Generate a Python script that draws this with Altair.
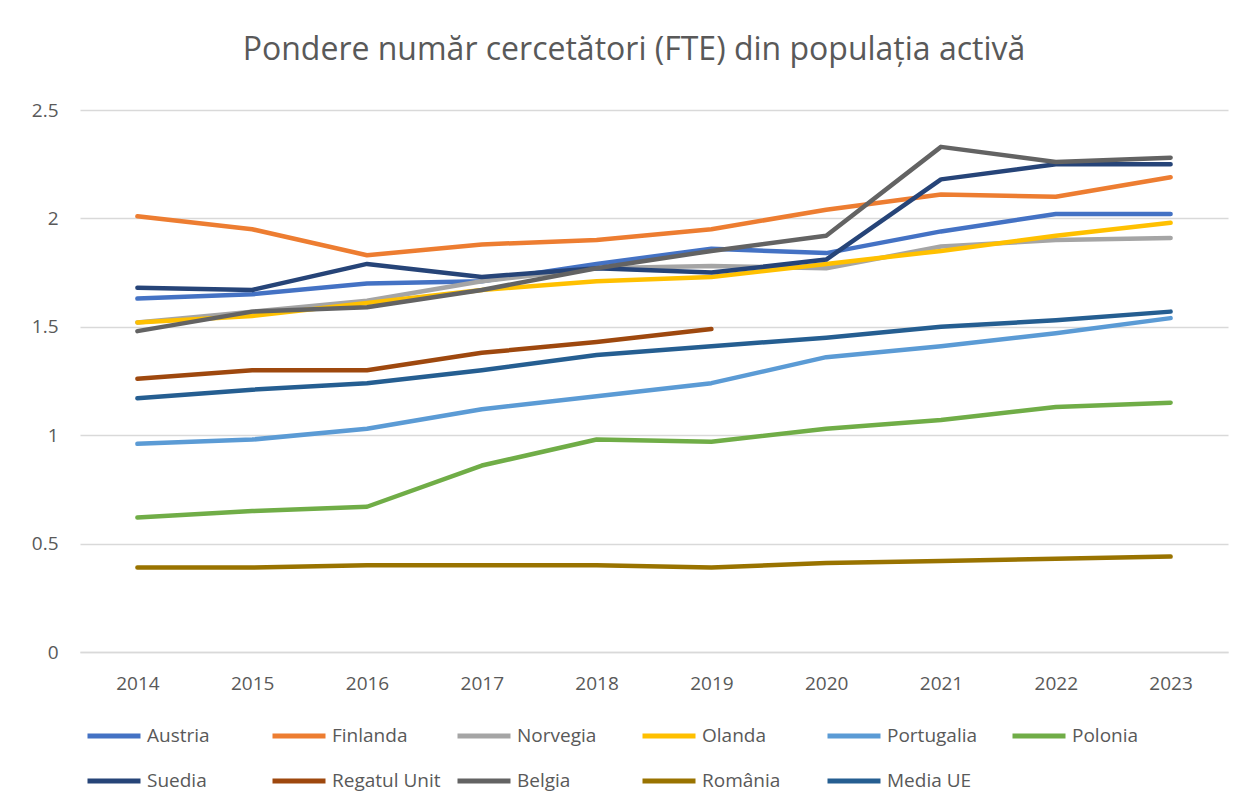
import altair as alt
import pandas as pd

years = ["2014", "2015", "2016", "2017", "2018", "2019", "2020", "2021", "2022", "2023"]

series_names = ["Austria", "Finlanda", "Norvegia", "Olanda", "Portugalia", "Polonia",
                "Suedia", "Regatul Unit", "Belgia", "România", "Media UE"]

austria = [1.63, 1.65, 1.70, 1.71, 1.79, 1.86, 1.84, 1.94, 2.02, 2.02]
finlanda = [2.01, 1.95, 1.83, 1.88, 1.90, 1.95, 2.04, 2.11, 2.10, 2.19]
norvegia = [1.52, 1.57, 1.62, 1.71, 1.77, 1.78, 1.77, 1.87, 1.90, 1.91]
olanda = [1.52, 1.55, 1.61, 1.67, 1.71, 1.73, 1.79, 1.85, 1.92, 1.98]
portugalia = [0.96, 0.98, 1.03, 1.12, 1.18, 1.24, 1.36, 1.41, 1.47, 1.54]
polonia = [0.62, 0.65, 0.67, 0.86, 0.98, 0.97, 1.03, 1.07, 1.13, 1.15]
suedia = [1.68, 1.67, 1.79, 1.73, 1.77, 1.75, 1.81, 2.18, 2.25, 2.25]
regatul_unit = [1.26, 1.30, 1.30, 1.38, 1.43, 1.49, None, None, None, None]
belgia = [1.48, 1.57, 1.59, 1.67, 1.77, 1.85, 1.92, 2.33, 2.26, 2.28]
romania = [0.39, 0.39, 0.40, 0.40, 0.40, 0.39, 0.41, 0.42, 0.43, 0.44]
media_ue = [1.17, 1.21, 1.24, 1.30, 1.37, 1.41, 1.45, 1.50, 1.53, 1.57]

colors = ["#4472C4", "#ED7D31", "#A5A5A5", "#FFC000", "#5B9BD5", "#70AD47",
          "#264478", "#9E480E", "#636363", "#997300", "#255E91"]

all_values = [austria, finlanda, norvegia, olanda, portugalia, polonia,
              suedia, regatul_unit, belgia, romania, media_ue]

rows = []
for order, (name, vals) in enumerate(zip(series_names, all_values)):
    for y, v in zip(years, vals):
        if v is not None:
            rows.append({"An": y, "Tara": name, "Valoare": v, "ord": order})
df = pd.DataFrame(rows)

FONT = "Open Sans"
TXT = "#595959"

chart = alt.Chart(df).mark_line(strokeWidth=4.5, strokeCap="round", strokeJoin="round").encode(
    x=alt.X("An:O", sort=years,
            scale=alt.Scale(type="point", padding=0.5),
            axis=alt.Axis(title=None, labelAngle=0, labelFontSize=19, labelColor=TXT,
                          labelFont=FONT, labelPadding=22, ticks=False,
                          domain=True, domainColor="#D9D9D9", domainWidth=1.3, grid=False)),
    y=alt.Y("Valoare:Q",
            scale=alt.Scale(domain=[0, 2.5], nice=False),
            axis=alt.Axis(title=None, values=[0, 0.5, 1, 1.5, 2, 2.5], format="~g",
                          labelFontSize=19, labelColor=TXT, labelFont=FONT,
                          labelPadding=22, ticks=False, domain=False,
                          gridColor="#D9D9D9", gridWidth=1.3)),
    color=alt.Color("Tara:N",
                    scale=alt.Scale(domain=series_names, range=colors),
                    legend=alt.Legend(title=None, orient="none", legendX=5, legendY=597,
                                      columns=6, gridAlign="all", columnPadding=6,
                                      rowPadding=6, symbolType="stroke",
                                      symbolSize=2809, symbolStrokeWidth=5,
                                      labelFontSize=19, labelColor=TXT, labelFont=FONT,
                                      labelOffset=4, labelLimit=200, direction="horizontal")),
    detail="ord:O",
    order="ord:Q",
).properties(
    width=1148,
    height=542,
    title=alt.TitleParams("Pondere număr cercetători (FTE) din populația activă",
                          fontSize=32, font=FONT, color=TXT, fontWeight="normal",
                          anchor="middle", offset=34, dx=-20),
    autosize=alt.AutoSizeParams(type="none"),
    padding={"left": 72, "top": 102, "right": 11, "bottom": 150},
).configure_view(stroke=None)

chart.save("out.html", embed_options={"renderer": "svg", "actions": False})
